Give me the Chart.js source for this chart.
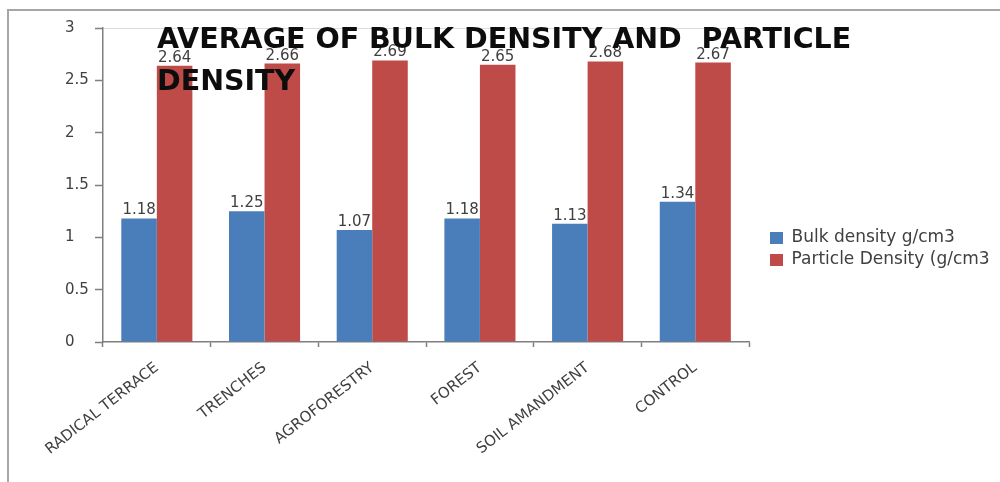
<!DOCTYPE html>
<html>
<head>
<meta charset="utf-8">
<script src="https://cdn.jsdelivr.net/npm/chart.js@4.4.1/dist/chart.umd.min.js"></script>
<style>
  html, body { margin: 0; padding: 0; background: #fff; }
  #wrap { position: relative; width: 1000px; height: 482px; overflow: hidden; }
  #frame { position: absolute; left: 7px; top: 9px; right: -4px; bottom: -4px;
           border-left: 2px solid #a6a6a6; border-top: 2px solid #a6a6a6; }
  #c { position: absolute; left: 0; top: 0; }
</style>
</head>
<body>
<div id="wrap">
  <div id="frame"></div>
  <canvas id="c" width="1000" height="482"></canvas>
</div>
<script>
// Treatments along the x axis
const categories = ['RADICAL TERRACE', 'TRENCHES', 'AGROFORESTRY', 'FOREST', 'SOIL AMANDMENT', 'CONTROL'];

// Average densities per treatment
const bulkDensity = [1.18, 1.25, 1.07, 1.18, 1.13, 1.34];
const particleDensity = [2.64, 2.66, 2.69, 2.65, 2.68, 2.67];

const seriesNames = ['Bulk density g/cm3', 'Particle Density (g/cm3'];
const titleLines = ['AVERAGE OF BULK DENSITY AND  PARTICLE', 'DENSITY'];

const yMin = 0, yMax = 3, yStep = 0.5;

const FONT = "'DejaVu Sans', sans-serif";
const TEXT = '#404040';
const AXIS = '#7f7f7f';

// Legend geometry
const LEG_FONT = 17, LEG_BOX_W = 13, LEG_BOX_H = 12, LEG_PAD = 5;
const PLOT_RIGHT = 749;

// Chart title, drawn over the plot area
const titlePlugin = {
  id: 'overlayTitle',
  afterDraw(chart) {
    const ctx = chart.ctx;
    ctx.save();
    ctx.font = "bold 28.5px " + FONT;
    ctx.fillStyle = '#0d0d0d';
    ctx.textAlign = 'left';
    ctx.textBaseline = 'alphabetic';
    ctx.fillText(titleLines[0], 157, 48);
    ctx.fillText(titleLines[1], 157, 90);
    ctx.restore();
  }
};

// Value labels above every bar
const valueLabels = {
  id: 'valueLabels',
  afterDatasetsDraw(chart) {
    const ctx = chart.ctx;
    ctx.save();
    ctx.font = "15px " + FONT;
    ctx.fillStyle = TEXT;
    ctx.textAlign = 'center';
    ctx.textBaseline = 'alphabetic';
    chart.data.datasets.forEach((ds, di) => {
      chart.getDatasetMeta(di).data.forEach((bar, i) => {
        ctx.fillText(ds.data[i].toFixed(2), bar.x, bar.y - 4);
      });
    });
    ctx.restore();
  }
};

// Place the legend block beside the plot
const legendPlacement = {
  id: 'legendPlacement',
  afterLayout(chart) {
    const lg = chart.legend;
    if (!lg) return;
    const w = lg.right - lg.left, h = lg.bottom - lg.top;
    lg.left = 770 - LEG_PAD; lg.right = lg.left + w;
    lg.top = 238 - LEG_PAD - LEG_FONT / 2; lg.bottom = lg.top + h;
  }
};

const chart = new Chart(document.getElementById('c'), {
  type: 'bar',
  data: {
    labels: categories,
    datasets: [
      { label: seriesNames[0], data: bulkDensity, backgroundColor: '#4a7ebb', borderWidth: 0 },
      { label: seriesNames[1], data: particleDensity, backgroundColor: '#be4b48', borderWidth: 0 }
    ]
  },
  options: {
    responsive: false,
    animation: false,
    devicePixelRatio: 1,
    datasets: { bar: { categoryPercentage: 0.66, barPercentage: 1.0 } },
    layout: { padding: { left: 65, top: 28, right: 20, bottom: 0 } },
    plugins: {
      title: { display: false },
      tooltip: { enabled: false },
      legend: {
        position: 'right',
        align: 'start',
        labels: {
          boxWidth: LEG_BOX_W,
          boxHeight: LEG_BOX_H,
          padding: LEG_PAD,
          color: TEXT,
          font: { family: FONT, size: LEG_FONT }
        }
      }
    },
    scales: {
      x: {
        grid: { display: true, drawOnChartArea: false, offset: true, tickLength: 5, tickColor: AXIS, tickWidth: 1.5 },
        border: { display: true, color: AXIS, width: 1.5 },
        ticks: {
          color: TEXT,
          font: { family: FONT, size: 15 },
          minRotation: 38,
          maxRotation: 38,
          autoSkip: false,
          padding: 12
        },
        afterFit(scale) { scale.height = 140; }
      },
      y: {
        min: yMin,
        max: yMax,
        grid: {
          display: true,
          drawOnChartArea: true,
          color: (ctx) => (ctx.tick && ctx.tick.value === yMax ? '#dcdcdc' : 'rgba(0,0,0,0)'),
          tickLength: 8,
          tickColor: AXIS,
          tickWidth: 1.5
        },
        border: { display: true, color: AXIS, width: 1.5 },
        ticks: {
          stepSize: yStep,
          color: TEXT,
          font: { family: FONT, size: 15 },
          crossAlign: 'far',
          callback: (v) => String(v)
        },
        afterFit(scale) { scale.width = 38; }
      }
    }
  },
  plugins: [titlePlugin, valueLabels, legendPlacement]
});

// Tune the right padding until the plot area ends at PLOT_RIGHT
for (let k = 0; k < 6; k++) {
  const diff = chart.chartArea.right - PLOT_RIGHT;
  if (Math.abs(diff) < 0.5) break;
  const padCfg = chart.config.options.layout.padding;
  padCfg.right = Math.max(0, padCfg.right + diff);
  chart.update();
}
</script>
</body>
</html>
